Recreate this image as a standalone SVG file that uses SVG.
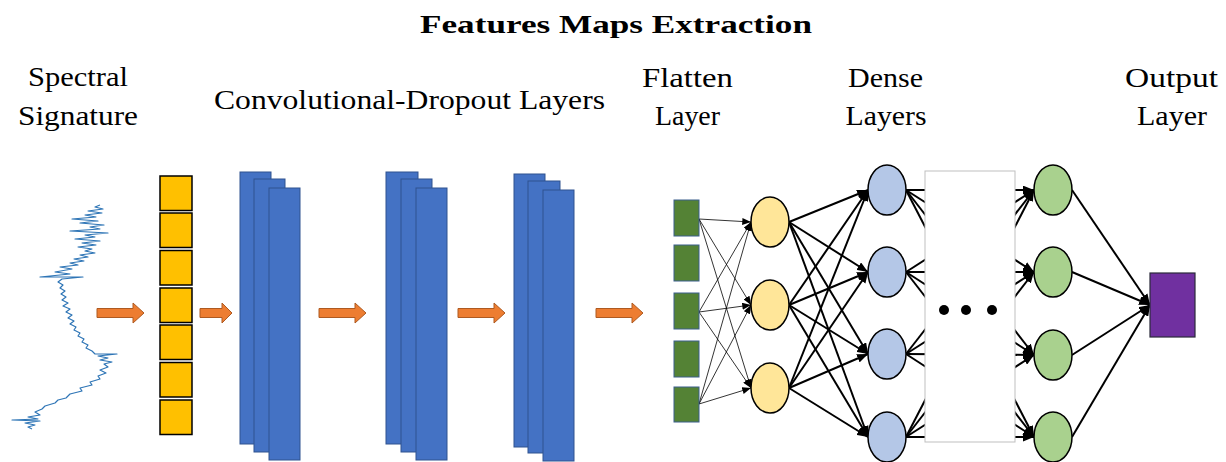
<svg xmlns="http://www.w3.org/2000/svg" width="1226" height="462" viewBox="0 0 1226 462">
<style>
text{font-family:"Liberation Serif","DejaVu Serif",serif;fill:#000;}
.lbl{font-size:27px;}
.ttl{font-size:25px;font-weight:bold;}
.arrow{fill:#ED7D31;stroke:#AE5A21;stroke-width:1;}
.sq{fill:#FFC000;stroke:#000;stroke-width:1.5;}
.fm{fill:#4472C4;stroke:#2F528F;stroke-width:1;}
.fl{fill:#548235;stroke:#3B5E8C;stroke-width:1;}
.yn{fill:#FFE699;stroke:#000;stroke-width:1.5;}
.bn{fill:#B4C7E7;stroke:#000;stroke-width:1.5;}
.gn{fill:#A9D18E;stroke:#000;stroke-width:1.5;}
.thin{stroke:#000;stroke-width:0.8;fill:none;marker-end:url(#ahs);}
.thick{stroke:#000;stroke-width:2;fill:none;marker-end:url(#ah);}
</style>
<defs>
<marker id="ah" viewBox="0 0 10 8" refX="10" refY="4" markerWidth="11" markerHeight="9" markerUnits="userSpaceOnUse" orient="auto"><path d="M0,0 L10,4 L0,8 Z" fill="#000"/></marker>
<marker id="ahs" viewBox="0 0 10 8" refX="10" refY="4" markerWidth="9" markerHeight="7" markerUnits="userSpaceOnUse" orient="auto"><path d="M0,0 L10,4 L0,8 Z" fill="#000"/></marker>
</defs>
<rect width="1226" height="462" fill="#fff"/>

<g id="labels">
<text class="ttl" x="616" y="33" text-anchor="middle" textLength="392" lengthAdjust="spacingAndGlyphs">Features Maps Extraction</text>
<text class="lbl" x="78" y="86" text-anchor="middle" textLength="100" lengthAdjust="spacingAndGlyphs">Spectral</text>
<text class="lbl" x="78" y="125" text-anchor="middle" textLength="120" lengthAdjust="spacingAndGlyphs">Signature</text>
<text class="lbl" x="409.5" y="109" text-anchor="middle" textLength="391" lengthAdjust="spacingAndGlyphs">Convolutional-Dropout Layers</text>
<text class="lbl" x="687.5" y="87" text-anchor="middle" textLength="91" lengthAdjust="spacingAndGlyphs">Flatten</text>
<text class="lbl" x="687.5" y="125" text-anchor="middle" textLength="65" lengthAdjust="spacingAndGlyphs">Layer</text>
<text class="lbl" x="885.5" y="87" text-anchor="middle" textLength="75" lengthAdjust="spacingAndGlyphs">Dense</text>
<text class="lbl" x="886" y="125" text-anchor="middle" textLength="81" lengthAdjust="spacingAndGlyphs">Layers</text>
<text class="lbl" x="1171.5" y="87" text-anchor="middle" textLength="93" lengthAdjust="spacingAndGlyphs">Output</text>
<text class="lbl" x="1172" y="125" text-anchor="middle" textLength="70" lengthAdjust="spacingAndGlyphs">Layer</text>
</g>

<g id="spectral-signature">
<path fill="none" stroke="#2E75B6" stroke-width="1.2" stroke-linejoin="round" d="M100,205 L95,207 L103,209 L88,211 L102,213 L85,215 L96,217 L72,219 L98,221 L80,223 L104,225 L90,227 L100,229 L70,231 L108,233 L85,235 L95,237 L75,239 L100,241 L82,243 L96,245 L78,247 L92,249 L85,251 L95,253 L80,255 L88,257 L74,259 L84,261 L70,263 L78,265 L60,267 L72,269 L55,272 L70,274 L40,277 L83,277 L62,279 L58,282 L63,285 L60,288 L65,291 L61,294 L66,297 L62,300 L68,303 L63,306 L70,309 L66,312 L72,315 L68,318 L74,321 L70,324 L76,327 L74,330 L80,333 L78,336 L84,339 L82,342 L88,345 L86,348 L92,351 L95,354 L117,354 L98,356 L108,358 L100,360 L112,362 L104,364 L108,367 L100,370 L106,373 L98,376 L100,379 L90,382 L92,385 L80,388 L82,391 L70,394 L66,398 L58,400 L55,403 L45,406 L42,409 L35,412 L40,415 L28,417 L38,419 L12,420 L40,421 L25,423 L35,425 L28,427 L32,429"/>
</g>

<g id="flow-arrows">
<path class="arrow" d="M97,308.5 H133 V303 L144,313 L133,323 V317.5 H97 Z"/>
<path class="arrow" d="M200,308.5 H222 V303 L232,313 L222,323 V317.5 H200 Z"/>
<path class="arrow" d="M319,308.5 H355 V303 L366,313 L355,323 V317.5 H319 Z"/>
<path class="arrow" d="M458,308.5 H494 V303 L505,313 L494,323 V317.5 H458 Z"/>
<path class="arrow" d="M596,308.5 H632 V303 L643,313 L632,323 V317.5 H596 Z"/>
</g>

<g id="input-vector">
<rect class="sq" x="160" y="176" width="32" height="34.5"/>
<rect class="sq" x="160" y="213" width="32" height="34.5"/>
<rect class="sq" x="160" y="250.5" width="32" height="34.5"/>
<rect class="sq" x="160" y="288" width="32" height="34.5"/>
<rect class="sq" x="160" y="325" width="32" height="34.5"/>
<rect class="sq" x="160" y="362.5" width="32" height="34.5"/>
<rect class="sq" x="160" y="400" width="32" height="34.5"/>
</g>

<g id="conv-block-1">
<rect class="fm" x="240" y="172" width="31" height="272"/>
<rect class="fm" x="254" y="179" width="31" height="273"/>
<rect class="fm" x="269" y="188" width="31" height="272"/>
</g>
<g id="conv-block-2">
<rect class="fm" x="386" y="172" width="32" height="272"/>
<rect class="fm" x="401" y="179" width="31" height="273"/>
<rect class="fm" x="416" y="188" width="31" height="272"/>
</g>
<g id="conv-block-3">
<rect class="fm" x="514" y="174" width="31" height="273"/>
<rect class="fm" x="528" y="181" width="32" height="272"/>
<rect class="fm" x="543" y="190" width="31" height="271"/>
</g>

<g id="connectors">
<path class="thin" d="M699,219 L751,222"/>
<path class="thin" d="M699,219 L751,305"/>
<path class="thin" d="M699,219 L751,388"/>
<path class="thin" d="M699,312 L751,222"/>
<path class="thin" d="M699,312 L751,305"/>
<path class="thin" d="M699,312 L751,388"/>
<path class="thin" d="M699,404 L751,222"/>
<path class="thin" d="M699,404 L751,305"/>
<path class="thin" d="M699,404 L751,388"/>

<path class="thick" d="M789,222 L868,190"/>
<path class="thick" d="M789,222 L868,272"/>
<path class="thick" d="M789,222 L868,354"/>
<path class="thick" d="M789,222 L868,437"/>
<path class="thick" d="M789,305 L868,190"/>
<path class="thick" d="M789,305 L868,272"/>
<path class="thick" d="M789,305 L868,354"/>
<path class="thick" d="M789,305 L868,437"/>
<path class="thick" d="M789,388 L868,190"/>
<path class="thick" d="M789,388 L868,272"/>
<path class="thick" d="M789,388 L868,354"/>
<path class="thick" d="M789,388 L868,437"/>

<path class="thick" d="M906,190 L1034,190"/>
<path class="thick" d="M906,190 L1034,272"/>
<path class="thick" d="M906,190 L1034,355"/>
<path class="thick" d="M906,190 L1034,437"/>
<path class="thick" d="M906,272 L1034,190"/>
<path class="thick" d="M906,272 L1034,272"/>
<path class="thick" d="M906,272 L1034,355"/>
<path class="thick" d="M906,272 L1034,437"/>
<path class="thick" d="M906,354 L1034,190"/>
<path class="thick" d="M906,354 L1034,272"/>
<path class="thick" d="M906,354 L1034,355"/>
<path class="thick" d="M906,354 L1034,437"/>
<path class="thick" d="M906,437 L1034,190"/>
<path class="thick" d="M906,437 L1034,272"/>
<path class="thick" d="M906,437 L1034,355"/>
<path class="thick" d="M906,437 L1034,437"/>

<path class="thick" d="M1072,190 L1150,305"/>
<path class="thick" d="M1072,272 L1150,305"/>
<path class="thick" d="M1072,355 L1150,305"/>
<path class="thick" d="M1072,437 L1150,305"/>
</g>

<g id="flatten-layer">
<rect class="fl" x="674" y="200" width="25" height="36"/>
<rect class="fl" x="674" y="245" width="25" height="36"/>
<rect class="fl" x="674" y="293" width="25" height="36"/>
<rect class="fl" x="674" y="341" width="25" height="36"/>
<rect class="fl" x="674" y="387" width="25" height="35"/>
</g>

<g id="dense-1">
<ellipse class="yn" cx="770" cy="222" rx="19" ry="25"/>
<ellipse class="yn" cx="770" cy="305" rx="19" ry="25"/>
<ellipse class="yn" cx="770" cy="388" rx="19" ry="25"/>
</g>

<g id="dense-2">
<ellipse class="bn" cx="887" cy="190" rx="19" ry="25"/>
<ellipse class="bn" cx="887" cy="272" rx="19" ry="25"/>
<ellipse class="bn" cx="887" cy="354" rx="19" ry="25"/>
<ellipse class="bn" cx="887" cy="437" rx="19" ry="25"/>
</g>

<g id="hidden-layers">
<rect x="925" y="171" width="90" height="271" fill="#fff" stroke="#BFBFBF" stroke-width="1"/>
<circle cx="944" cy="310" r="5" fill="#000"/>
<circle cx="966" cy="310" r="5" fill="#000"/>
<circle cx="992" cy="310" r="5" fill="#000"/>
</g>

<g id="dense-last">
<ellipse class="gn" cx="1053" cy="190" rx="19" ry="25"/>
<ellipse class="gn" cx="1053" cy="272" rx="19" ry="25"/>
<ellipse class="gn" cx="1053" cy="355" rx="19" ry="25"/>
<ellipse class="gn" cx="1053" cy="437" rx="19" ry="25"/>
</g>

<g id="output-layer">
<rect x="1150" y="273" width="45" height="64" fill="#7030A0" stroke="#2a2a3a" stroke-width="1.2"/>
</g>
</svg>
